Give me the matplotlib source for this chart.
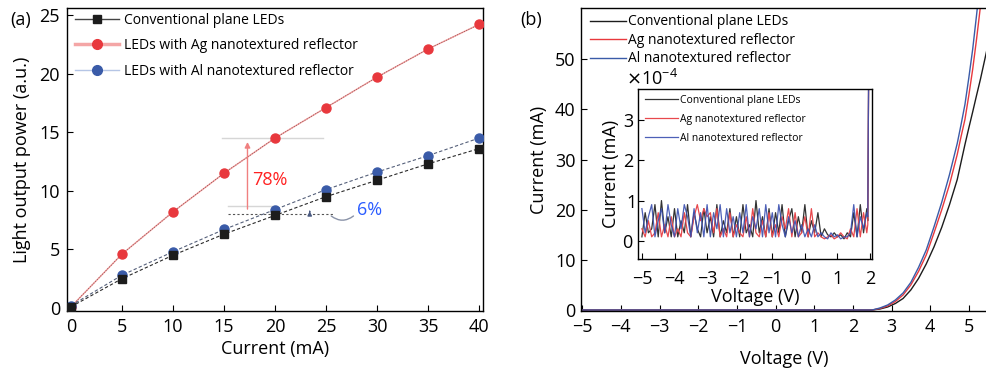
import matplotlib
matplotlib.use("Agg")
import matplotlib.pyplot as plt
from matplotlib.lines import Line2D
from matplotlib.ticker import ScalarFormatter
import numpy as np

plt.rcParams['font.family'] = ['Open Sans', 'DejaVu Sans']
plt.rcParams['axes.linewidth'] = 1.0

# (a) light output power vs current
corriente = [0, 5, 10, 15, 20, 25, 30, 35, 40]
p_conv = [0.1, 2.5, 4.5, 6.3, 7.9, 9.5, 10.9, 12.3, 13.6]
p_ag = [0.1, 4.6, 8.2, 11.5, 14.5, 17.1, 19.7, 22.1, 24.2]
p_al = [0.2, 2.8, 4.8, 6.7, 8.4, 10.1, 11.6, 13.0, 14.5]
etiquetas_a = ['Conventional plane LEDs', 'LEDs with Ag nanotextured reflector',
               'LEDs with Al nanotextured reflector']

# (b) I-V curves
volt = [-5.0, 2.5, 2.7, 2.9, 3.1, 3.3, 3.5, 3.7, 3.9, 4.1, 4.3, 4.5, 4.7, 4.8, 4.9,
        5.0, 5.1, 5.2, 5.3, 5.4, 5.5]
i_conv = [0, 0, 0.2, 0.6, 1.3, 2.3, 4.0, 6.3, 9.2, 12.6, 16.5, 21.0, 26.0, 29.5, 33.0,
          36.3, 39.5, 42.8, 46.0, 49.5, 53.0]
i_ag = [0, 0, 0.3, 0.8, 1.7, 3.0, 5.0, 7.7, 11.0, 15.4, 20.0, 25.0, 31.0, 34.6, 38.0,
        42.8, 48.0, 54.0, 60.5, 67.0, 75.0]
i_al = [0, 0, 0.4, 1.0, 2.0, 3.4, 5.5, 8.5, 12.0, 16.6, 21.5, 27.0, 33.2, 37.0, 41.0,
        46.3, 52.0, 58.8, 66.0, 73.0, 80.0]
etiquetas_b = ['Conventional plane LEDs', 'Ag nanotextured reflector', 'Al nanotextured reflector']

# inset: leakage current (x1e-4 mA), sampled every 0.1 V from -5 to 1.9, then the turn-on
volt_ins = list(np.round(np.arange(-5.0, 1.95, 0.1), 2)) + [1.93, 1.97]
fuga_conv = [0.1, 0.7, 0.2, 0.3, 0.9, 0.1, 1.0, 0.2, 0.6, 0.1,
             0.8, 0.1, 0.5, 0.2, 0.9, 0.1, 0.7, 0.3, 0.1, 0.8,
             0.2, 0.6, 0.1, 0.9, 0.1, 0.5, 0.2, 0.8, 0.1, 0.6,
             0.1, 0.9, 0.2, 0.4, 0.1, 1.0, 0.2, 0.6, 0.1, 0.8,
             0.1, 0.7, 0.2, 0.9, 0.1, 0.5, 0.8, 0.1, 0.6, 0.2,
             0.9, 0.1, 0.5, 0.2, 0.7, 0.1, 0.3, 0.15, 0.1, 0.2,
             0.1, 0.15, 0.05, 0.2, 0.1, 0.7, 0.1, 0.9, 0.2, 0.8,
             0.5, 6.0]
fuga_ag = [0.3, 0.1, 0.5, 0.1, 0.2, 0.7, 0.1, 0.4, 0.1, 0.6,
           0.1, 0.3, 0.1, 0.7, 0.2, 0.1, 0.6, 0.9, 0.5, 0.8,
           0.6, 0.7, 0.2, 0.8, 0.1, 0.3, 0.1, 0.7, 0.1, 0.4,
           0.2, 0.1, 0.6, 0.1, 0.8, 0.2, 0.1, 0.5, 0.1, 0.7,
           0.1, 0.4, 0.1, 0.6, 0.3, 0.8, 0.1, 0.7, 0.1, 0.2,
           0.6, 0.1, 0.8, 0.1, 0.2, 0.1, 0.05, 0.1, 0.15, 0.05,
           0.1, 0.2, 0.1, 0.05, 0.3, 0.1, 0.8, 0.1, 0.7, 0.2,
           0.4, 6.0]
fuga_al = [0.8, 0.2, 0.6, 0.9, 0.1, 0.5, 0.8, 0.2, 0.9, 0.4,
           0.1, 0.8, 0.3, 0.9, 0.6, 0.1, 0.8, 0.2, 0.7, 0.1,
           0.9, 0.1, 0.7, 0.3, 0.9, 0.1, 0.8, 0.2, 0.6, 0.1,
           0.7, 0.2, 0.9, 0.1, 0.6, 0.3, 0.8, 0.1, 0.9, 0.2,
           0.7, 0.1, 0.9, 0.4, 0.1, 0.6, 0.2, 0.5, 0.1, 0.4,
           0.1, 0.3, 0.1, 0.4, 0.1, 0.2, 0.1, 0.05, 0.2, 0.1,
           0.15, 0.05, 0.1, 0.1, 0.2, 0.9, 0.1, 0.6, 0.3, 0.7,
           0.6, 6.0]

negro = '#1c1c1c'
rojo = '#e8383d'
azul = '#3a5ba8'

fig = plt.figure(figsize=(9.87, 3.71), dpi=100)

# ---------------- (a) ----------------
ax = fig.add_axes([0.0679, 0.1617, 0.4215, 0.8167])
ax.plot(corriente, p_ag, color='#f29a9a', lw=1.0, zorder=2)
ax.plot(corriente, p_ag, color='#7a4a4a', lw=0.6, ls=(0, (1, 2)), zorder=2)
ax.plot(corriente, p_al, color='#55607a', lw=0.8, ls=(0, (3, 2)), zorder=2)
ax.plot(corriente, p_conv, color='#2a2a2a', lw=0.8, ls=(0, (3, 2)), zorder=2)
ax.plot(corriente, p_ag, 'o', color=rojo, ms=6.5, zorder=4)
ax.plot(corriente, p_al, 'o', color=azul, ms=6.5, zorder=4)
ax.plot(corriente, p_conv, 's', color=negro, ms=5.5, zorder=5)

ax.set_xlim(-0.39, 40.39)
ax.set_ylim(-0.26, 25.6)
ax.set_xticks(range(0, 41, 5))
ax.set_yticks(range(0, 26, 5))
ax.tick_params(direction='in', length=4, labelsize=13, pad=5)
ax.set_xlabel('Current (mA)', fontsize=13, labelpad=3)
ax.set_ylabel('Light output power (a.u.)', fontsize=13, labelpad=6)

# annotations
ax.plot([14.8, 24.7], [14.5, 14.5], color='#d6d6d6', lw=1.0, zorder=1)
ax.plot([15.4, 20.2], [8.7, 8.7], color='#d6d6d6', lw=1.0, zorder=1)
ax.plot([15.4, 25.7], [8.0, 8.0], color='#555555', lw=0.8, ls=(0, (2, 2)), zorder=1)
ax.annotate('', xy=(17.3, 14.4), xytext=(17.3, 8.2),
            arrowprops=dict(arrowstyle='-|>', color='#f08080', lw=1.0, mutation_scale=8))
ax.annotate('', xy=(23.4, 8.5), xytext=(23.4, 8.0),
            arrowprops=dict(arrowstyle='-|>', color='#4a5a80', lw=1.0, mutation_scale=6))
ax.annotate('', xy=(27.9, 8.0), xytext=(25.3, 8.0),
            arrowprops=dict(arrowstyle='-', color='#8a93a8', lw=1.0,
                            connectionstyle='arc3,rad=0.45'))
ax.text(17.8, 10.9, '78%', color='#ff2020', fontsize=13, va='center')
ax.text(28.0, 8.4, '6%', color='#2a5cff', fontsize=13, va='center')

leg_a = [Line2D([], [], color='#444444', lw=1.0, marker='s', ms=5.5, mfc=negro, mec=negro),
         Line2D([], [], color='#f4a6a6', lw=2.5, marker='o', ms=7, mfc=rojo, mec=rojo),
         Line2D([], [], color='#b5c5e5', lw=1.0, marker='o', ms=7, mfc=azul, mec=azul)]
ax.legend(leg_a, etiquetas_a, loc='upper left', bbox_to_anchor=(-0.012, 1.025), frameon=False,
          fontsize=10, handlelength=3.2, handletextpad=0.35, labelspacing=0.75)
fig.text(0.010, 0.945, '(a)', fontsize=13, va='center')

# ---------------- (b) ----------------
bx = fig.add_axes([0.5887, 0.1617, 0.4113, 0.8167])
bx.plot(volt, i_conv, color=negro, lw=1.0)
bx.plot(volt, i_ag, color=rojo, lw=1.0)
bx.plot(volt, i_al, color=azul, lw=1.0)
bx.set_xlim(-5.03, 5.47)
bx.set_ylim(-0.2, 60.2)
bx.set_xticks(range(-5, 6))
bx.set_yticks(range(0, 51, 10))
bx.spines['right'].set_visible(False)
bx.tick_params(direction='in', length=4, labelsize=13, pad=5)
bx.tick_params(axis='y', pad=4)
bx.set_xlabel('Voltage (V)', fontsize=13, labelpad=10)
bx.set_ylabel('Current (mA)', fontsize=13, labelpad=5)
bx.legend(etiquetas_b, loc='upper left', bbox_to_anchor=(-0.008, 1.02), frameon=False,
          fontsize=10, handlelength=2.6, handletextpad=0.15, labelspacing=0.25)
fig.text(0.527, 0.945, '(b)', fontsize=13, va='center')

# inset
ix = fig.add_axes([0.6464, 0.3019, 0.2371, 0.4582])
ix.plot(volt_ins, np.array(fuga_conv) * 1e-4, color='#333333', lw=0.9)
ix.plot(volt_ins, np.array(fuga_ag) * 1e-4, color='#e8484d', lw=0.9)
ix.plot(volt_ins, np.array(fuga_al) * 1e-4, color='#3a4fb0', lw=0.9, alpha=0.9)
ix.set_xlim(-5.12, 2.06)
ix.set_ylim(-0.45e-4, 3.77e-4)
ix.set_xticks(range(-5, 3))
ix.set_yticks([0, 1e-4, 2e-4, 3e-4])
fmt = ScalarFormatter(useMathText=True)
fmt.set_powerlimits((0, 0))
ix.yaxis.set_major_formatter(fmt)
ix.yaxis.get_offset_text().set_fontsize(13)
ix.yaxis.get_offset_text().set_x(-0.05)
ix.tick_params(direction='in', length=4, labelsize=13, pad=3)
ix.tick_params(axis='x', pad=8)
ix.set_xlabel('Voltage (V)', fontsize=13, labelpad=0)
ix.set_ylabel('Current (mA)', fontsize=13, labelpad=2)
ix.legend(etiquetas_b, loc='upper left', bbox_to_anchor=(-0.01, 1.02), frameon=False,
          fontsize=7.5, handlelength=3.2, handletextpad=0.2, labelspacing=0.75)

fig.savefig('out.png', dpi=100)
